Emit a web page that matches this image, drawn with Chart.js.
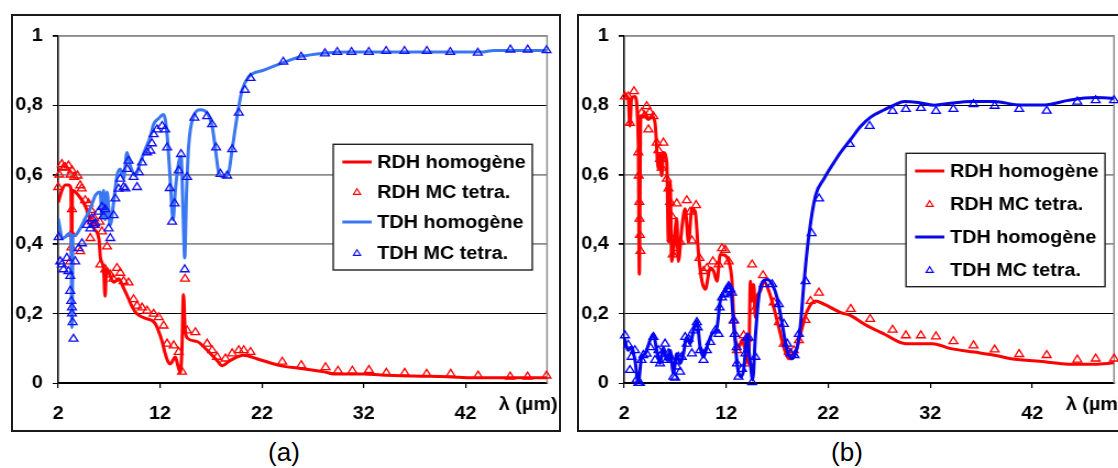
<!DOCTYPE html>
<html>
<head>
<meta charset="utf-8">
<script src="https://cdn.jsdelivr.net/npm/chart.js@4.4.1/dist/chart.umd.min.js"></script>
<style>
  html, body { margin: 0; padding: 0; background: #fff; width: 1118px; height: 468px; overflow: hidden; }
  .frame { position: absolute; top: 14px; height: 418px; border: 2px solid #1a1a1a; box-sizing: border-box; }
  canvas { position: absolute; top: 16px; transform: scaleX(1.1); transform-origin: 0 0; }
  .cap { position: absolute; top: 437px; width: 70px; text-align: center; font: 26px "Liberation Sans", Arial, sans-serif; color: #000; }
</style>
</head>
<body>
<div class="frame" style="left:11px; width:550px;"></div>
<div class="frame" style="left:577px; width:560px;"></div>
<canvas id="chartA" width="498" height="414" style="left:12px;"></canvas>
<canvas id="chartB" width="498" height="414" style="left:578px;"></canvas>
<div class="cap" style="left:249px;">(a)</div>
<div class="cap" style="left:812px;">(b)</div>
<script>
const seriesNames = ["RDH homogène", "RDH MC tetra.", "TDH homogène", "TDH MC tetra."];
const lambdaTicks = [2, 12, 22, 32, 42];
const yTickLabels = ["0", "0,2", "0,4", "0,6", "0,8", "1"];
const axisTitle = "λ (µm)";

// (a) [lambda, value]
const aRdhHomogene = [[2.0,0.52],[2.3,0.55],[2.7,0.57],[3.0,0.57],[3.25,0.56],[3.32,0.37],[3.4,0.555],[4.0,0.54],[4.65,0.51],[5.0,0.483],[5.5,0.445],[6.0,0.415],[6.15,0.36],[6.45,0.33],[6.6,0.25],[6.75,0.33],[6.95,0.32],[7.45,0.29],[7.95,0.3],[8.4,0.275],[8.8,0.25],[9.25,0.22],[9.7,0.2],[10.25,0.19],[10.7,0.185],[11.2,0.18],[11.55,0.17],[11.85,0.15],[12.2,0.12],[12.5,0.085],[12.8,0.06],[13.0,0.055],[13.5,0.075],[13.75,0.05],[14.0,0.03],[14.15,0.1],[14.3,0.255],[14.45,0.16],[14.65,0.13],[15.6,0.12],[16.6,0.095],[17.6,0.065],[18.1,0.05],[18.9,0.065],[20.2,0.08],[21.5,0.07],[23.8,0.05],[25.8,0.042],[28.1,0.032],[29.1,0.026],[32.0,0.026],[33.7,0.023],[36.9,0.02],[40.2,0.018],[42.8,0.015],[50.0,0.015]];
const aRdhMc = [[2.0,0.564],[2.1,0.6],[2.36,0.63],[2.52,0.62],[2.69,0.621],[3.01,0.626],[3.2,0.6],[3.35,0.612],[3.35,0.5],[3.3,0.43],[3.18,0.35],[3.3,0.39],[3.57,0.593],[3.9,0.597],[4.16,0.569],[4.3,0.56],[4.65,0.526],[4.98,0.517],[5.21,0.498],[5.54,0.474],[5.3,0.465],[5.6,0.455],[6.06,0.464],[6.3,0.436],[4.16,0.379],[5.15,0.417],[6.79,0.393],[6.13,0.341],[6.62,0.327],[7.11,0.312],[7.4,0.3],[7.77,0.331],[8.1,0.317],[8.42,0.293],[8.91,0.289],[9.4,0.241],[9.74,0.222],[10.23,0.217],[10.72,0.208],[11.37,0.199],[11.86,0.189],[12.35,0.165],[12.69,0.113],[13.34,0.108],[13.83,0.089],[14.16,0.032],[14.45,0.3],[14.65,0.151],[15.47,0.146],[16.62,0.113],[17.11,0.094],[17.6,0.075],[18.42,0.07],[19.08,0.085],[19.73,0.094],[20.22,0.094],[20.88,0.089],[24.0,0.061],[25.86,0.051],[28.25,0.045],[29.47,0.035],[30.88,0.035],[32.51,0.037],[34.22,0.029],[36.02,0.029],[38.18,0.026],[40.54,0.026],[43.23,0.021],[46.38,0.018],[48.09,0.018],[49.95,0.021]];
const aTdhHomogene = [[2.0,0.474],[2.2,0.44],[2.36,0.417],[2.69,0.42],[3.0,0.43],[3.25,0.43],[3.35,0.16],[3.45,0.42],[3.67,0.426],[4.16,0.445],[4.65,0.474],[5.15,0.502],[5.64,0.54],[6.13,0.55],[6.3,0.474],[6.46,0.555],[6.6,0.47],[6.8,0.55],[7.11,0.455],[7.44,0.52],[7.77,0.597],[8.1,0.616],[8.42,0.588],[8.75,0.664],[9.08,0.626],[9.57,0.597],[10.06,0.635],[10.55,0.673],[11.05,0.71],[11.37,0.745],[11.86,0.762],[12.35,0.773],[12.69,0.715],[13.01,0.58],[13.28,0.47],[13.5,0.555],[13.83,0.635],[14.06,0.654],[14.26,0.493],[14.42,0.36],[14.59,0.54],[14.81,0.683],[15.3,0.768],[15.96,0.787],[16.62,0.778],[17.11,0.74],[17.44,0.673],[17.76,0.607],[18.25,0.593],[18.74,0.607],[19.08,0.673],[19.57,0.768],[20.06,0.844],[20.71,0.882],[22.19,0.901],[23.83,0.92],[25.8,0.94],[28.1,0.95],[30.4,0.953],[36.9,0.953],[43.5,0.953],[44.8,0.958],[50.0,0.958]];
const aTdhMc = [[2.03,0.42],[2.2,0.35],[2.36,0.341],[2.52,0.327],[2.85,0.36],[3.0,0.322],[3.18,0.308],[3.18,0.265],[3.28,0.236],[3.35,0.217],[3.35,0.2],[3.41,0.175],[3.5,0.127],[3.67,0.35],[4.0,0.388],[4.33,0.402],[4.82,0.455],[5.15,0.445],[5.31,0.474],[5.47,0.455],[5.64,0.46],[5.96,0.493],[6.3,0.507],[6.46,0.48],[6.62,0.5],[6.95,0.445],[7.11,0.417],[7.44,0.483],[7.6,0.531],[7.93,0.559],[8.1,0.588],[8.42,0.564],[8.6,0.56],[8.75,0.616],[8.91,0.64],[9.4,0.593],[9.74,0.564],[9.9,0.607],[10.23,0.635],[10.72,0.664],[11.05,0.669],[11.2,0.69],[11.37,0.716],[11.7,0.73],[12.2,0.74],[12.5,0.73],[12.69,0.678],[12.95,0.561],[13.18,0.464],[13.43,0.517],[13.83,0.612],[14.06,0.659],[14.42,0.327],[14.65,0.593],[15.37,0.764],[16.62,0.768],[17.11,0.745],[17.5,0.678],[17.93,0.602],[18.59,0.597],[19.08,0.673],[19.73,0.778],[20.32,0.844],[20.88,0.878],[24.1,0.925],[25.86,0.939],[28.19,0.949],[29.4,0.953],[30.8,0.953],[32.5,0.953],[34.2,0.956],[36.0,0.956],[38.2,0.956],[40.5,0.953],[43.2,0.951],[46.4,0.96],[48.1,0.96],[49.95,0.958]];

// (b) [lambda, value]
const bRdhHomogene = [[2.0,0.83],[2.39,0.82],[2.56,0.74],[2.72,0.82],[3.05,0.825],[3.38,0.692],[3.48,0.313],[3.62,0.768],[4.04,0.768],[4.37,0.759],[4.7,0.768],[5.02,0.749],[5.35,0.616],[5.5,0.66],[5.67,0.597],[5.84,0.664],[6.17,0.635],[6.33,0.407],[6.5,0.578],[6.66,0.35],[6.82,0.379],[7.15,0.474],[7.3,0.35],[7.64,0.445],[7.97,0.502],[8.3,0.407],[8.63,0.502],[8.96,0.493],[9.29,0.369],[9.62,0.293],[9.95,0.27],[10.43,0.331],[10.76,0.322],[11.09,0.293],[11.41,0.37],[11.74,0.369],[12.24,0.35],[12.56,0.293],[12.72,0.189],[12.89,0.123],[13.22,0.103],[13.54,0.123],[13.87,0.094],[14.2,0.056],[14.36,0.293],[14.53,0.236],[14.69,0.284],[14.85,0.189],[15.02,0.246],[15.35,0.265],[15.68,0.293],[16.17,0.265],[16.66,0.217],[17.15,0.16],[17.64,0.103],[18.13,0.07],[18.46,0.07],[18.95,0.103],[19.44,0.16],[19.94,0.208],[20.75,0.236],[21.57,0.227],[23.21,0.203],[24.2,0.194],[25.5,0.17],[27.47,0.141],[29.6,0.113],[32.2,0.113],[34.0,0.099],[36.3,0.089],[38.28,0.08],[39.9,0.07],[43.2,0.061],[45.5,0.054],[48.1,0.054],[50.0,0.058]];
const bRdhMc = [[2.07,0.825],[2.39,0.825],[2.56,0.749],[2.96,0.84],[3.38,0.664],[3.42,0.597],[3.48,0.521],[3.5,0.473],[3.54,0.426],[3.6,0.38],[3.7,0.778],[4.0,0.77],[4.2,0.797],[4.37,0.73],[4.5,0.78],[4.86,0.768],[5.18,0.692],[5.35,0.67],[5.51,0.645],[5.67,0.62],[5.84,0.692],[6.17,0.588],[6.33,0.56],[6.5,0.521],[6.66,0.48],[6.66,0.417],[6.76,0.37],[6.99,0.388],[7.15,0.517],[7.48,0.407],[8.13,0.526],[8.46,0.493],[8.63,0.41],[9.04,0.512],[9.37,0.36],[9.77,0.322],[10.1,0.331],[10.69,0.35],[11.25,0.341],[11.58,0.388],[11.9,0.383],[12.24,0.35],[12.72,0.18],[13.05,0.094],[13.7,0.137],[14.0,0.127],[14.2,0.056],[14.53,0.341],[14.7,0.208],[15.6,0.31],[16.66,0.232],[17.15,0.175],[17.64,0.113],[18.13,0.089],[18.62,0.094],[19.11,0.123],[19.77,0.181],[20.26,0.236],[21.08,0.26],[24.2,0.213],[26.1,0.184],[28.3,0.153],[29.6,0.137],[31.07,0.137],[32.55,0.134],[34.26,0.12],[36.23,0.108],[38.3,0.096],[40.7,0.083],[43.4,0.08],[46.4,0.067],[48.2,0.07],[50.0,0.07]];
const bTdhHomogene = [[2.0,0.13],[2.39,0.094],[2.72,0.103],[3.05,0.066],[3.38,0.0],[3.7,0.075],[4.04,0.084],[4.53,0.123],[4.86,0.141],[5.18,0.094],[5.51,0.056],[5.84,0.103],[6.17,0.066],[6.5,0.094],[6.82,0.028],[7.15,0.084],[7.48,0.056],[7.8,0.084],[8.13,0.132],[8.46,0.113],[8.79,0.151],[9.12,0.179],[9.44,0.103],[9.77,0.075],[10.1,0.103],[10.59,0.141],[11.09,0.16],[11.41,0.236],[11.9,0.27],[12.23,0.284],[12.39,0.284],[12.56,0.236],[12.72,0.17],[12.88,0.12],[13.05,0.056],[13.38,0.018],[13.7,0.037],[14.03,0.132],[14.36,0.056],[14.59,0.009],[14.85,0.132],[15.18,0.246],[15.51,0.289],[16.0,0.298],[16.5,0.284],[16.98,0.246],[17.48,0.17],[17.97,0.094],[18.46,0.07],[18.95,0.103],[19.28,0.17],[19.6,0.284],[20.1,0.426],[20.75,0.54],[21.57,0.588],[22.55,0.635],[23.2,0.664],[24.2,0.702],[25.2,0.74],[26.15,0.766],[27.5,0.787],[28.5,0.801],[29.45,0.811],[30.8,0.808],[32.4,0.8],[34.0,0.806],[36.0,0.811],[38.3,0.811],[40.6,0.801],[43.2,0.801],[45.5,0.814],[48.1,0.822],[50.0,0.82]];
const bTdhMc = [[2.07,0.137],[2.39,0.11],[2.56,0.037],[2.72,0.075],[3.05,0.094],[3.21,0.009],[3.38,0.0],[3.54,0.0],[3.7,0.066],[3.87,0.08],[4.2,0.084],[4.53,0.103],[4.86,0.132],[5.02,0.066],[5.35,0.094],[5.51,0.056],[5.67,0.084],[6.0,0.113],[6.17,0.066],[6.33,0.085],[6.66,0.066],[6.82,0.018],[6.99,0.015],[7.15,0.047],[7.31,0.075],[7.48,0.032],[7.64,0.075],[7.97,0.132],[8.13,0.113],[8.3,0.127],[8.63,0.085],[8.79,0.151],[9.12,0.175],[9.2,0.16],[9.44,0.094],[9.77,0.066],[10.1,0.094],[10.43,0.118],[10.92,0.151],[11.25,0.141],[11.35,0.217],[11.58,0.246],[11.82,0.255],[11.9,0.26],[12.23,0.279],[12.4,0.27],[12.56,0.26],[12.76,0.18],[12.82,0.141],[13.02,0.103],[13.05,0.056],[13.2,0.018],[13.54,0.04],[13.87,0.085],[14.0,0.13],[14.2,0.13],[14.53,0.002],[14.85,0.075],[15.68,0.284],[16.5,0.284],[17.15,0.227],[17.64,0.17],[17.97,0.113],[18.3,0.085],[18.69,0.08],[19.11,0.141],[19.77,0.293],[20.36,0.431],[21.1,0.531],[24.1,0.688],[26.05,0.74],[28.3,0.783],[29.6,0.789],[31.07,0.792],[32.55,0.783],[34.26,0.789],[36.23,0.803],[38.3,0.798],[40.7,0.789],[43.4,0.784],[46.4,0.81],[48.2,0.814],[50.0,0.814]];

Chart.defaults.font.family = "'Liberation Sans', Arial, sans-serif";
Chart.defaults.color = "#000";

const boldFont = { size: 18, weight: "bold" };
const grayGrid = [1, 0.6, 0.4];
const pts = (arr) => arr.map(([x, y]) => ({ x: x, y: y }));

function lineSet(label, data, color, order) {
  return {
    label: label, data: pts(data), showLine: true, fill: false,
    borderColor: color, backgroundColor: color, borderWidth: 3,
    pointRadius: 0, cubicInterpolationMode: "monotone", borderJoinStyle: "round",
    order: order,
  };
}
function markSet(label, data, color, order) {
  return {
    label: label, data: pts(data), showLine: false,
    pointStyle: "triangle", pointRadius: 4.6, pointBorderWidth: 1.3,
    borderColor: color, backgroundColor: "rgba(0,0,0,0)",
    pointBorderColor: color, pointBackgroundColor: "rgba(0,0,0,0)",
    clip: false, order: order,
  };
}

function triangle(ctx, x, y, r) {
  ctx.beginPath();
  ctx.moveTo(x, y - r);
  ctx.lineTo(x + r * 0.866, y + r * 0.5);
  ctx.lineTo(x - r * 0.866, y + r * 0.5);
  ctx.closePath();
  ctx.stroke();
}

// plot border, inside legend, axis title
const decorations = {
  id: "decorations",
  beforeDatasetsDraw(chart) {
    const { ctx, chartArea: a } = chart;
    ctx.save();
    ctx.strokeStyle = "#8c8c8c";
    ctx.lineWidth = 1.5;
    ctx.beginPath();
    ctx.moveTo(a.left, a.top);
    ctx.lineTo(a.right, a.top);
    ctx.lineTo(a.right, a.bottom);
    ctx.stroke();
    ctx.restore();
  },
  afterDraw(chart, args, opts) {
    const { ctx, chartArea: a } = chart;
    ctx.save();
    ctx.font = "bold 18px 'Liberation Sans', Arial, sans-serif";
    ctx.fillStyle = "#000";
    ctx.textBaseline = "middle";
    ctx.textAlign = "right";
    ctx.fillText(axisTitle, a.right + 9.5, a.bottom + 22.5);

    const b = opts.box;
    ctx.fillStyle = "#fff";
    ctx.fillRect(b[0], b[1], b[2] - b[0], b[3] - b[1]);
    ctx.strokeStyle = "#222";
    ctx.lineWidth = 1.4;
    ctx.strokeRect(b[0], b[1], b[2] - b[0], b[3] - b[1]);

    ctx.textAlign = "left";
    chart.data.datasets.forEach((ds, i) => {
      const y = opts.rows[i];
      ctx.strokeStyle = ds.borderColor;
      if (ds.showLine) {
        ctx.lineWidth = 3;
        ctx.beginPath();
        ctx.moveTo(opts.line[0], y);
        ctx.lineTo(opts.line[1], y);
        ctx.stroke();
      } else {
        ctx.lineWidth = 1.1;
        triangle(ctx, (opts.line[0] + opts.line[1]) / 2, y + 0.5, 3.8);
      }
      ctx.fillStyle = "#000";
      ctx.fillText(ds.label, opts.textX, y + 1);
    });
    ctx.restore();
  },
};

function makeChart(id, sets, padRight, legend) {
  return new Chart(document.getElementById(id), {
    type: "scatter",
    data: { datasets: sets },
    options: {
      responsive: false,
      animation: false,
      devicePixelRatio: 1,
      events: [],
      layout: { padding: { top: 16, right: padRight, bottom: 0, left: 0 } },
      scales: {
        x: {
          type: "linear",
          min: 2,
          max: 50,
          afterBuildTicks: (s) => { s.ticks = lambdaTicks.map((v) => ({ value: v })); },
          afterFit: (s) => { s.height = 47; },
          grid: { drawOnChartArea: false, drawTicks: true, tickLength: 5, color: "#000", lineWidth: 1.2 },
          border: { color: "#000", width: 1.5 },
          ticks: { font: boldFont, color: "#000", padding: 15, maxRotation: 0, autoSkip: false, callback: (v) => String(v) },
        },
        y: {
          min: 0,
          max: 1,
          afterFit: (s) => { s.width = 42; },
          grid: {
            tickLength: 5,
            tickColor: "#000",
            color: (c) => (grayGrid.includes(c.tick.value) ? "#8c8c8c" : "#000"),
            lineWidth: (c) => (grayGrid.includes(c.tick.value) ? 1.8 : 1),
          },
          border: { color: "#000", width: 1.5 },
          ticks: { stepSize: 0.2, font: boldFont, color: "#000", padding: 9, callback: (v) => yTickLabels[Math.round(v * 5)] },
        },
      },
      plugins: {
        legend: { display: false },
        tooltip: { enabled: false },
        decorations: legend,
      },
    },
    plugins: [decorations],
  });
}

makeChart("chartA", [
  lineSet(seriesNames[0], aRdhHomogene, "#ff0000", 4),
  markSet(seriesNames[1], aRdhMc, "#ff0000", 3),
  lineSet(seriesNames[2], aTdhHomogene, "#3a78f2", 2),
  markSet(seriesNames[3], aTdhMc, "#1010f0", 1),
], 11.6, { box: [292, 128.3, 473, 254], rows: [146, 176, 206, 237], line: [300.3, 327], textX: 332 });

makeChart("chartB", [
  lineSet(seriesNames[0], bRdhHomogene, "#ff0000", 4),
  markSet(seriesNames[1], bRdhMc, "#ff0000", 3),
  lineSet(seriesNames[2], bTdhHomogene, "#0808e6", 2),
  markSet(seriesNames[3], bTdhMc, "#0000ff", 1),
], 10.7, { box: [298.2, 137.3, 479.1, 270.7], rows: [155, 188, 221, 254], line: [306.4, 333], textX: 338.2 });
</script>
</body>
</html>
